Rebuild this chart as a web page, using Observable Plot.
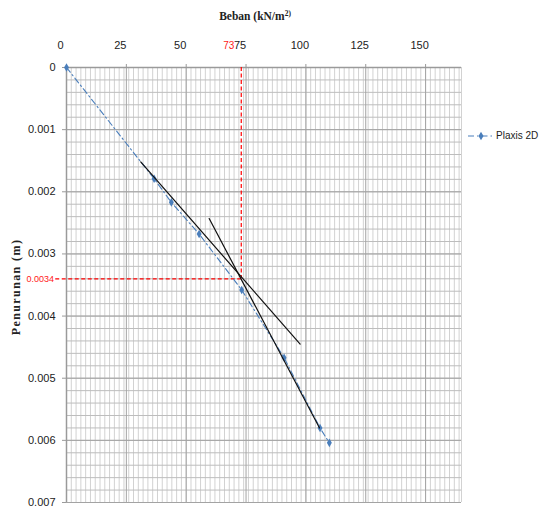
<!DOCTYPE html>
<html><head><meta charset="utf-8">
<script src="https://cdn.jsdelivr.net/npm/d3@7"></script>
<script src="https://cdn.jsdelivr.net/npm/@observablehq/plot@0.6"></script>
<style>
body{margin:0;background:#fff;}
#chart{width:539px;height:511px;overflow:hidden;}
</style>
</head><body><div id="chart"></div>
<script>
// ---- data ----
const seriesName = "Plaxis 2D";
const beban = [0, 36.6, 43.8, 55.4, 73.2, 90.9, 105.9, 109.8];          // kN/m2
const penurunan = [0, 0.00179, 0.00217, 0.00268, 0.00358, 0.00467, 0.00580, 0.00604]; // m
const xTicks = [0, 25, 50, 75, 100, 125, 150];
const yTicks = [0, 0.001, 0.002, 0.003, 0.004, 0.005, 0.006, 0.007];
const xMax = 165;
const yMax = 0.007;
const xMinorStep = 2;
const yMinorStep = 0.0002;
// tangent lines (annotation)
const tangent1Beban = [31.0, 97.6];
const tangent1Pen = [0.00152, 0.00445];
const tangent2Beban = [59.6, 105.7];
const tangent2Pen = [0.00243, 0.00580];
// yield point read-off
const yieldLoad = 73;
const yieldSettle = 0.0034;
const yieldLabelX = "73";
const yieldLabelY = "0.0034";
const xTitle = "Beban (kN/m";
const xTitleSup = "2)";
const yTitle = "Penurunan (m)";

// ---- build tables ----
const data = beban.map((b, i) => ({beban: b, pen: penurunan[i]}));
const t1 = tangent1Beban.map((b, i) => ({beban: b, pen: tangent1Pen[i]}));
const t2 = tangent2Beban.map((b, i) => ({beban: b, pen: tangent2Pen[i]}));
const xMinor = d3.range(0, xMax + 0.001, xMinorStep).concat([xMax]);
const yMinor = d3.range(0, Math.round(yMax / yMinorStep) + 1).map(i => +(i * yMinorStep).toFixed(5));

const blue = "#4a7ebb";
const tickFont = "'Liberation Sans', Arial, sans-serif";

const chart = Plot.plot({
  width: 539, height: 511,
  marginLeft: 66, marginRight: 78, marginTop: 67, marginBottom: 9,
  x: {domain: [0, xMax]},
  y: {domain: [0, yMax], reverse: true},
  style: {fontFamily: tickFont, fontSize: "11px", background: "#fff", color: "#222"},
  marks: [
    Plot.ruleX(xMinor, {stroke: "#d2d2d2", strokeWidth: 1}),
    Plot.ruleY(yMinor, {stroke: "#bdbdbd", strokeWidth: 1}),
    Plot.ruleX(xTicks, {stroke: "#a3a3a3", strokeWidth: 1}),
    Plot.ruleY(yTicks, {stroke: "#a3a3a3", strokeWidth: 1}),
    Plot.ruleX([0], {stroke: "#9a9a9a", strokeWidth: 1.5}),
    Plot.ruleY([0], {stroke: "#9a9a9a", strokeWidth: 1.5}),
    Plot.axisX({anchor: "top", ticks: xTicks, tickSize: 4, tickFormat: () => "", label: null, stroke: "#9a9a9a"}),
    Plot.text(xTicks, {x: d => d, y: () => 0, dy: -22, dx: -6, text: d => String(d), fill: "#222", fontSize: 11}),
    Plot.axisY({anchor: "left", ticks: yTicks, tickSize: 4, tickPadding: 7, label: null,
      tickFormat: d => d === 0 ? "0" : d.toFixed(3), stroke: "#9a9a9a", fill: "#222", fontSize: 11}),
    // yield read-off
    Plot.ruleX([yieldLoad], {y1: 0, y2: yieldSettle, stroke: "#ff0000", strokeWidth: 1.2, strokeDasharray: "4,2.5"}),
    Plot.ruleY([yieldSettle], {x1: -4.5, x2: yieldLoad, stroke: "#ff0000", strokeWidth: 1.2, strokeDasharray: "4,2.5"}),
    Plot.text([yieldLoad], {x: d => d, y: () => 0, dy: -22, dx: -7, textAnchor: "end", text: () => yieldLabelX, fill: "#ff2020", fontSize: 10}),
    Plot.text([yieldSettle], {x: () => 0, y: d => d, dx: -12.5, textAnchor: "end", text: () => yieldLabelY, fill: "#ff2020", fontSize: 9}),
    // series
    Plot.line(data, {x: "beban", y: "pen", stroke: blue, strokeWidth: 1.1, strokeDasharray: "6,3,1.5,3"}),
    Plot.dot(data, {x: "beban", y: "pen", symbol: "diamond", r: 2.6, fill: blue, stroke: "none"}),
    // tangents
    Plot.line(t1, {x: "beban", y: "pen", stroke: "#111", strokeWidth: 1.2}),
    Plot.line(t2, {x: "beban", y: "pen", stroke: "#111", strokeWidth: 1.2})
  ]
});
document.getElementById("chart").appendChild(chart);

// ---- titles and legend ----
const svg = d3.select(chart);
const serif = "'Liberation Serif', 'Times New Roman', serif";
const tt = svg.append("text").attr("x", 255).attr("y", 20).attr("text-anchor", "middle")
  .attr("font-family", serif).attr("font-weight", "bold").attr("font-size", 11.5).attr("fill", "#222");
tt.append("tspan").text(xTitle);
tt.append("tspan").attr("dy", -4).attr("font-size", 7.5).text(xTitleSup);

svg.append("text").attr("transform", "translate(17,287) rotate(-90)").attr("text-anchor", "middle")
  .attr("dominant-baseline", "middle")
  .attr("font-family", serif).attr("font-weight", "bold").attr("font-size", 12)
  .attr("letter-spacing", 1.4).attr("fill", "#222").text(yTitle);

const lg = svg.append("g");
lg.append("line").attr("x1", 468).attr("x2", 494).attr("y1", 136).attr("y2", 136)
  .attr("stroke", blue).attr("stroke-width", 1.1).attr("stroke-dasharray", "6,3,1.5,3");
lg.append("path").attr("d", d3.symbol(d3.symbolDiamond, 22)()).attr("transform", "translate(481,136)").attr("fill", blue);
lg.append("text").attr("x", 496).attr("y", 136).attr("text-anchor", "start").attr("dominant-baseline", "middle")
  .attr("font-family", tickFont).attr("font-size", 10).attr("fill", "#222").text(seriesName);
</script>
</body></html>
